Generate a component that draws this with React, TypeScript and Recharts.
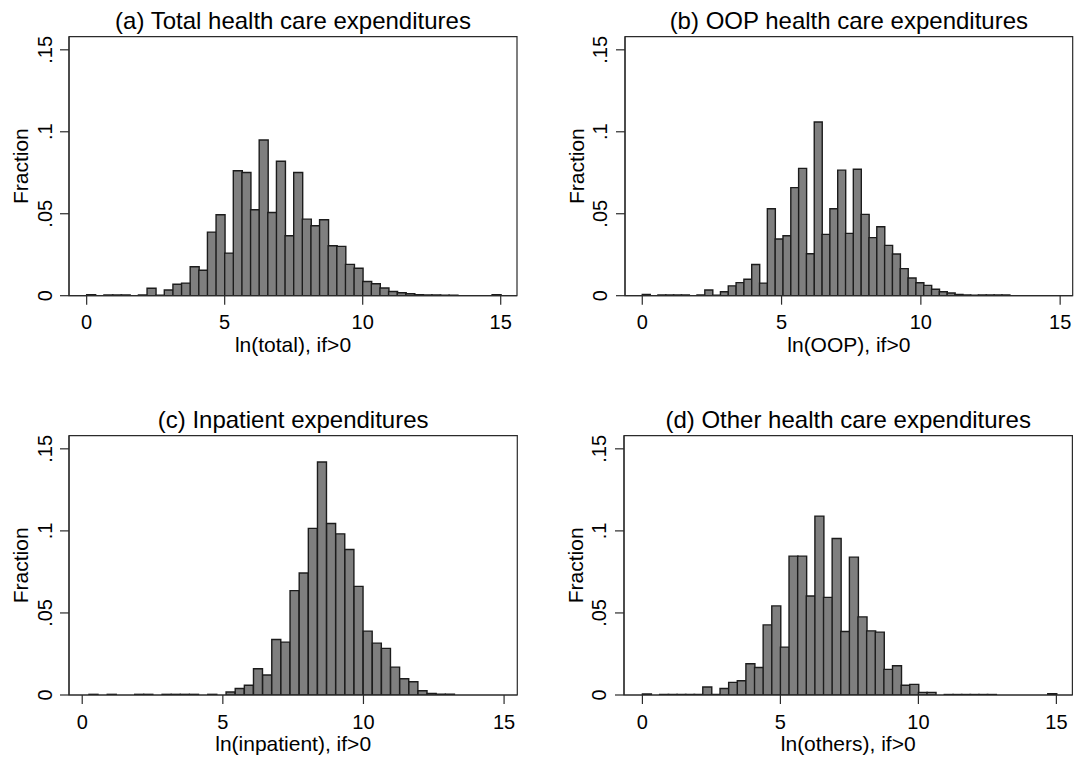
import React from 'react';
import { ComposedChart, Bar, XAxis, YAxis, ReferenceArea } from 'recharts';

// ---- Data (fraction per histogram bin) ----
const totalFrac = [
  0.0006, 0, 0.0004, 0.0004, 0.0004, 0, 0.0004, 0.0045, 0.0003, 0.0035,
  0.007, 0.0077, 0.0177, 0.0155, 0.0388, 0.0494, 0.026, 0.0762, 0.0752, 0.0524,
  0.095, 0.0508, 0.082, 0.0366, 0.0752, 0.0467, 0.0427, 0.0463, 0.0305, 0.0301,
  0.0191, 0.0167, 0.0087, 0.0073, 0.0047, 0.0026, 0.0018, 0.0012, 0.0006, 0.0004,
  0.0004, 0.0003, 0.0003, 0, 0, 0, 0, 0.0006,
];
const oopFrac = [
  0.0008, 0, 0.0004, 0.0004, 0.0004, 0.0004, 0, 0.0004, 0.0035, 0.0003,
  0.0024, 0.006, 0.008, 0.010, 0.019, 0.0077, 0.053, 0.0346, 0.0366, 0.0659,
  0.0777, 0.0256, 0.106, 0.0374, 0.053, 0.0766, 0.038, 0.0771, 0.0496, 0.0354,
  0.0421, 0.0307, 0.0254, 0.0165, 0.0108, 0.0079, 0.0063, 0.0039, 0.0024, 0.0016,
  0.0008, 0.0004, 0.0003, 0.0004, 0.0004, 0.0004, 0.0004,
];
const inpatientFrac = [
  0.0004, 0, 0.0004, 0, 0, 0.0004, 0.0004, 0, 0.0004, 0.0004,
  0.0004, 0.0004, 0, 0.0004, 0, 0.0018, 0.004, 0.0059, 0.016, 0.0122,
  0.0338, 0.0322, 0.0636, 0.0743, 0.1015, 0.142, 0.1045, 0.0982, 0.0887, 0.0662,
  0.0389, 0.0316, 0.0284, 0.017, 0.0099, 0.0081, 0.0026, 0.001, 0.0005, 0.0005,
];
const othersFrac = [
  0.0006, 0, 0.0004, 0.0004, 0.0004, 0.0003, 0.0003, 0.0049, 0.0003, 0.004,
  0.0077, 0.0087, 0.019, 0.0168, 0.0427, 0.0543, 0.0292, 0.0846, 0.0846, 0.0603,
  0.109, 0.0595, 0.0954, 0.0387, 0.084, 0.0476, 0.0391, 0.0383, 0.0156, 0.0178,
  0.0059, 0.0065, 0.0016, 0.0016, 0, 0.0003, 0.0003, 0.0003, 0.0003, 0.0003,
  0.0003, 0, 0, 0, 0, 0, 0, 0.0008,
];

// bin definitions (start of first bin, bin width) in ln units
const totalBins = { start: 0, width: 0.3125 };
const oopBins = { start: 0, width: 0.2806 };
const inpatientBins = { start: 0.24, width: 0.325 };
const othersBins = { start: 0, width: 0.3125 };

const panelTitles = [
  '(a) Total health care expenditures',
  '(b) OOP health care expenditures',
  '(c) Inpatient expenditures',
  '(d) Other health care expenditures',
];
const xAxisTitles = ['ln(total), if>0', 'ln(OOP), if>0', 'ln(inpatient), if>0', 'ln(others), if>0'];
const yAxisTitle = 'Fraction';

const xTicks = [0, 5, 10, 15];
const yTicks = [0, 0.05, 0.1, 0.15];
const yTickLabels = ['0', '.05', '.1', '.15'];
const Y_MAX = 0.158;

const FONT = '"Liberation Sans", Arial, Helvetica, sans-serif';
const AXIS_COLOR = '#2b2b2b';

type BinDef = { start: number; width: number };
const toBins = (values: number[], def: BinDef) =>
  values.map((v, i) => ({ x: def.start + def.width * (i + 0.5), frac: v }));

const panels = [
  { values: totalFrac, bins: totalBins, plotLeft: 69, plotTop: 36.7, plotW: 448, plotH: 259, xDomain: [-0.64, 15.59] },
  { values: oopFrac, bins: oopBins, plotLeft: 625, plotTop: 36.7, plotW: 447.7, plotH: 259, xDomain: [-0.62, 15.45] },
  { values: inpatientFrac, bins: inpatientBins, plotLeft: 69, plotTop: 435.7, plotW: 448.3, plotH: 259.3, xDomain: [-0.47, 15.47] },
  { values: othersFrac, bins: othersBins, plotLeft: 624.3, plotTop: 435.7, plotW: 448.4, plotH: 259.3, xDomain: [-0.667, 15.58] },
];

const YTick = (props: any) => {
  const { x, y, payload } = props;
  const idx = yTicks.indexOf(payload.value);
  const label = idx >= 0 ? yTickLabels[idx] : String(payload.value);
  return (
    <text
      transform={`translate(${x - 6.5},${y}) rotate(-90)`}
      textAnchor="middle"
      fontSize={20}
      fontFamily={FONT}
      fill="#000"
    >
      {label}
    </text>
  );
};

const ML = 69;
const MT = 36.7;
const MR = 21;
const MB = 84.3;

function Panel({ idx }: { idx: number }) {
  const cfg = panels[idx];
  const data = toBins(cfg.values, cfg.bins);
  const W = ML + cfg.plotW + MR;
  const H = MT + cfg.plotH + MB;
  const cx = ML + cfg.plotW / 2;
  return (
    <div
      style={{
        position: 'absolute',
        left: cfg.plotLeft - ML,
        top: cfg.plotTop - MT,
        width: W,
        height: H,
      }}
    >
      <ComposedChart
        width={W}
        height={H}
        data={data}
        margin={{ top: MT, right: MR, bottom: 0, left: 0 }}
        barCategoryGap={0}
        barGap={0}
      >
        <XAxis
          dataKey="x"
          type="number"
          domain={cfg.xDomain}
          allowDataOverflow
          ticks={xTicks}
          interval={0}
          height={MB}
          tickSize={9}
          tickMargin={10.5}
          stroke={AXIS_COLOR}
          strokeWidth={1.2}
          tick={{ fill: '#000', fontSize: 20, fontFamily: FONT }}
        />
        <YAxis
          type="number"
          domain={[0, Y_MAX]}
          allowDataOverflow
          ticks={yTicks}
          interval={0}
          width={ML}
          tickSize={9}
          stroke={AXIS_COLOR}
          strokeWidth={1.2}
          tick={<YTick />}
        />
        <Bar
          dataKey="frac"
          fill="#7f7f7f"
          stroke="#1c1c1c"
          strokeWidth={1.4}
          isAnimationActive={false}
        />
        <ReferenceArea
          x1={cfg.xDomain[0]}
          x2={cfg.xDomain[1]}
          y1={0}
          y2={Y_MAX}
          fill="none"
          fillOpacity={0}
          stroke={AXIS_COLOR}
          strokeWidth={1.2}
        />
      </ComposedChart>
      <svg
        width={W}
        height={H}
        style={{ position: 'absolute', left: 0, top: 0, pointerEvents: 'none', overflow: 'visible' }}
      >
        <text x={cx} y={29} textAnchor="middle" fontSize={24} fontFamily={FONT} fill="#000">
          {panelTitles[idx]}
        </text>
        <text x={cx} y={MT + cfg.plotH + 55.8} textAnchor="middle" fontSize={21} fontFamily={FONT} fill="#000">
          {xAxisTitles[idx]}
        </text>
        <text
          transform={`translate(27.5,${MT + cfg.plotH / 2}) rotate(-90)`}
          textAnchor="middle"
          fontSize={21}
          fontFamily={FONT}
          fill="#000"
        >
          {yAxisTitle}
        </text>
      </svg>
    </div>
  );
}

export default function App() {
  return (
    <div
      style={{
        position: 'absolute',
        left: 0,
        top: 0,
        width: 1077,
        height: 760,
        overflow: 'hidden',
        background: '#fff',
      }}
    >
      {panels.map((_, i) => (
        <Panel key={i} idx={i} />
      ))}
    </div>
  );
}
